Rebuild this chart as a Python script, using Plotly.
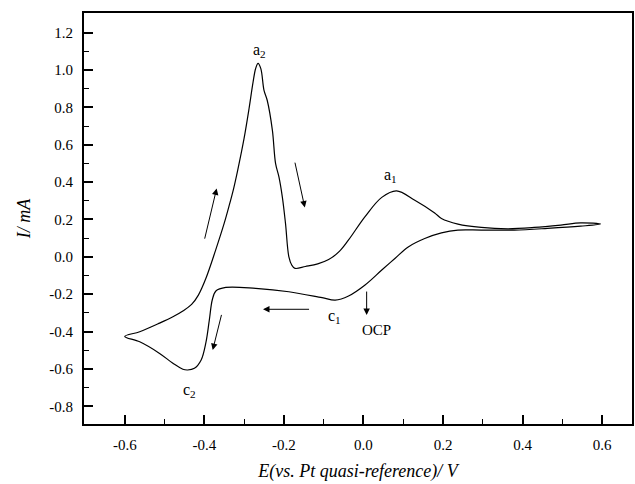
import plotly.graph_objects as go

# Cathodic (negative-going) branch, from +0.6 V to -0.6 V
E_down = [0.596, 0.546, 0.4625, 0.379, 0.296, 0.2375, 0.196, 0.154, 0.1125, 0.079,
          0.046, 0.004, -0.0375, -0.071, -0.104, -0.1875, -0.271, -0.346, -0.371,
          -0.38, -0.3875, -0.396, -0.408, -0.425, -0.442, -0.454, -0.479, -0.5125,
          -0.5625, -0.6]
I_down = [0.175, 0.164, 0.152, 0.143, 0.143, 0.143, 0.128, 0.098, 0.053, -0.009,
          -0.071, -0.151, -0.210, -0.232, -0.219, -0.187, -0.169, -0.164, -0.183,
          -0.23, -0.339, -0.458, -0.552, -0.597, -0.606, -0.602, -0.57, -0.517,
          -0.455, -0.426]

# Anodic (positive-going) branch, from -0.6 V to +0.6 V
E_up = [-0.5625, -0.5125, -0.479, -0.454, -0.432, -0.415, -0.396, -0.371, -0.35, -0.3375,
        -0.327, -0.317, -0.3, -0.2875, -0.2775, -0.271, -0.265, -0.258, -0.25, -0.242,
        -0.229, -0.221, -0.2125, -0.204, -0.196, -0.1875, -0.18, -0.172, -0.146,
        -0.115, -0.0875, -0.06, -0.0375, 0.004, 0.046, 0.083, 0.129, 0.179, 0.196,
        0.2375, 0.296, 0.3625, 0.429, 0.496, 0.546, 0.596]
I_up = [-0.401, -0.355, -0.321, -0.29, -0.255, -0.205, -0.115, 0.04, 0.18, 0.275,
        0.36, 0.455, 0.635, 0.795, 0.935, 1.008, 1.035, 1.007, 0.891, 0.838,
        0.678, 0.5, 0.428, 0.321, 0.179, 0.0, -0.045, -0.062, -0.052,
        -0.038, -0.015, 0.03, 0.09, 0.215, 0.318, 0.353, 0.303, 0.235, 0.205,
        0.175, 0.157, 0.15, 0.157, 0.17, 0.182, 0.175]

x_ticks = [-0.6, -0.4, -0.2, 0.0, 0.2, 0.4, 0.6]
x_ticktext = ["-0.6", "-0.4", "-0.2", "0.0", "0.2", "0.4", "0.6"]
y_ticks = [-0.8, -0.6, -0.4, -0.2, 0.0, 0.2, 0.4, 0.6, 0.8, 1.0, 1.2]
y_ticktext = ["-0.8", "-0.6", "-0.4", "-0.2", "0.0", "0.2", "0.4", "0.6", "0.8", "1.0", "1.2"]

# peak / point labels
label_text = ["a<sub>2</sub>", "a<sub>1</sub>", "c<sub>1</sub>", "c<sub>2</sub>", "OCP"]
label_x = [-0.2625, 0.067, -0.0725, -0.4375, 0.033]
label_y = [1.105, 0.437, -0.317, -0.713, -0.392]

# scan-direction arrows: (tail_x, tail_y, head_x, head_y)
arrow_tail_x = [-0.400, -0.173, -0.133, -0.356, 0.008]
arrow_tail_y = [0.089, 0.512, -0.281, -0.303, -0.178]
arrow_head_x = [-0.369, -0.1475, -0.2525, -0.379, 0.008]
arrow_head_y = [0.366, 0.264, -0.281, -0.499, -0.312]

E = E_down + E_up
I = I_down + I_up

FONT = "Liberation Serif"

fig = go.Figure()
fig.add_trace(go.Scatter(x=E, y=I, mode="lines",
                         line=dict(color="black", width=1.2, shape="spline", smoothing=1.0),
                         showlegend=False, hoverinfo="skip"))

for t, xx, yy in zip(label_text, label_x, label_y):
    fig.add_annotation(x=xx, y=yy, text=t, showarrow=False,
                       font=dict(family=FONT, size=16 if t != "OCP" else 15, color="black"))

for tx, ty, hx, hy in zip(arrow_tail_x, arrow_tail_y, arrow_head_x, arrow_head_y):
    fig.add_annotation(x=hx, y=hy, ax=tx, ay=ty, xref="x", yref="y",
                       axref="x", ayref="y", text="", showarrow=True,
                       arrowhead=2, arrowsize=1.3, arrowwidth=1, arrowcolor="black")

axis_common = dict(showline=True, linecolor="black", linewidth=1.8, mirror=True,
                   ticks="inside", ticklen=9, tickwidth=1.5, tickcolor="black",
                   showgrid=False, zeroline=False,
                   tickfont=dict(family=FONT, size=15, color="black"))

fig.update_xaxes(range=[-0.7025, 0.675], tickvals=x_ticks, ticktext=x_ticktext,
                 minor=dict(dtick=0.1, tick0=0, ticks="inside", ticklen=5, tickwidth=1.2,
                            tickcolor="black", showgrid=False),
                 title=dict(text="<i>E(vs. Pt quasi-reference)/ V</i>",
                            font=dict(family=FONT, size=18, color="black"), standoff=12),
                 ticklabelstandoff=6, **axis_common)
fig.update_yaxes(range=[-0.895, 1.305], tickvals=y_ticks, ticktext=y_ticktext,
                 minor=dict(dtick=0.1, tick0=0, ticks="inside", ticklen=5, tickwidth=1.2,
                            tickcolor="black", showgrid=False),
                 title=dict(text="<i>I/ mA</i>",
                            font=dict(family=FONT, size=18, color="black"), standoff=14),
                 ticklabelstandoff=6, **axis_common)

fig.update_layout(width=635, height=484, margin=dict(l=84, r=1, t=13, b=60),
                  plot_bgcolor="white", paper_bgcolor="white",
                  font=dict(family=FONT, color="black"))

fig.write_html("out.html", config={"displayModeBar": False},
               post_script="document.body.style.margin='0';document.body.style.padding='0';")
